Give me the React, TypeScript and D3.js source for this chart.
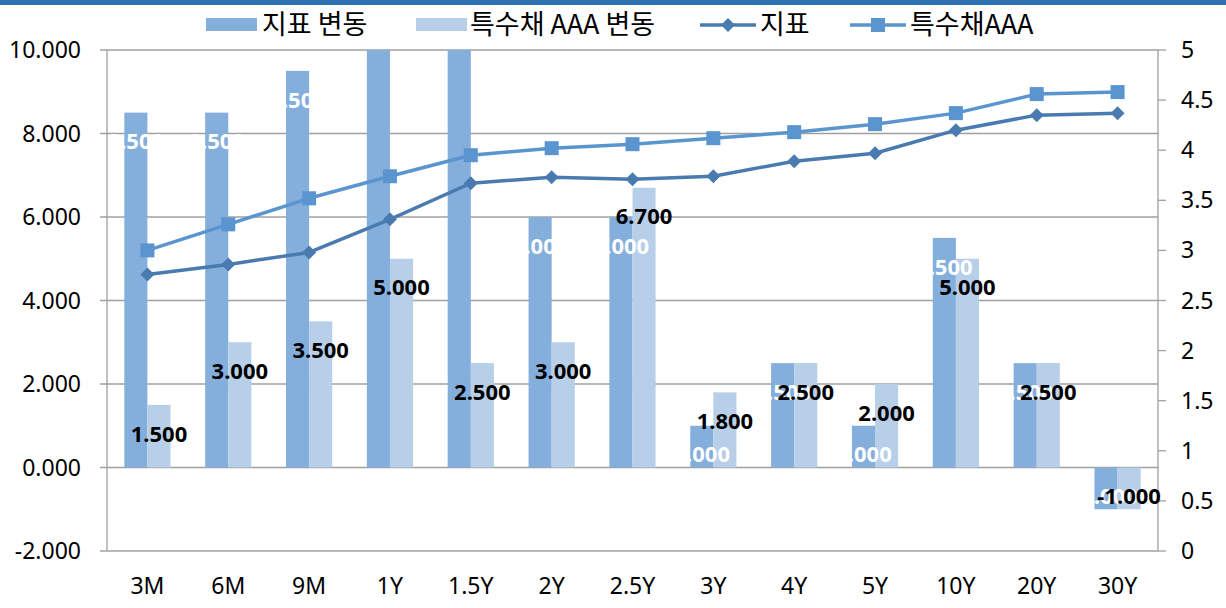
import React from "react";
import * as d3 from "d3";

const categories = ["3M", "6M", "9M", "1Y", "1.5Y", "2Y", "2.5Y", "3Y", "4Y", "5Y", "10Y", "20Y", "30Y"];
// bp change (left axis)
const jipyoChange = [8.5, 8.5, 9.5, 12, 11, 6, 6, 1, 2.5, 1, 5.5, 2.5, -1];
const aaaChange = [1.5, 3, 3.5, 5, 2.5, 3, 6.7, 1.8, 2.5, 2, 5, 2.5, -1];
// rate level (right axis)
const jipyoRate = [2.76, 2.86, 2.98, 3.31, 3.67, 3.73, 3.71, 3.74, 3.89, 3.97, 4.2, 4.35, 4.37];
const aaaRate = [3.0, 3.26, 3.52, 3.74, 3.95, 4.02, 4.06, 4.12, 4.18, 4.26, 4.37, 4.56, 4.58];
const leftTicks = [-2, 0, 2, 4, 6, 8, 10];
const rightTicks = [0, 0.5, 1, 1.5, 2, 2.5, 3, 3.5, 4, 4.5, 5];

const W = 1226;
const H = 608;
const margin = { top: 50, right: 68, bottom: 57, left: 107 };

const darkBar = "#84aedc";
const lightBar = "#b8cfe9";
const jipyoLine = "#4a7bb0";
const aaaLine = "#5b95cf";
const gridCol = "#a0a0a0";
const font = "'Noto Sans', 'Noto Sans CJK KR', sans-serif";
const krFont = "'Noto Sans CJK KR', 'Noto Sans', sans-serif";

const locale = d3.formatLocale({ decimal: ".", thousands: ",", grouping: [3], currency: ["", ""], minus: "-" });
const fmt = locale.format(".3f");

const App = () => {
  const x0 = margin.left;
  const x1 = W - margin.right;
  const yTop = margin.top;
  const yBot = H - margin.bottom;

  const x = d3.scaleBand().domain(categories).range([x0, x1]);
  const bw = x.bandwidth() / 3.5;
  const yL = d3.scaleLinear().domain([-2, 10]).range([yBot, yTop]);
  const yR = d3.scaleLinear().domain([0, 5]).range([yBot, yTop]);
  const cx = (i: number) => x(categories[i])! + x.bandwidth() / 2;

  const line = d3.line<number>().x((_, i) => cx(i)).y(d => yR(d));

  const labelY = (v: number) => (v >= 0 ? yL(v) + 29 : yL(v) - 13);

  const diamond = (px: number, py: number, r: number) =>
    `M${px},${py - r}L${px + r},${py}L${px},${py + r}L${px - r},${py}Z`;

  return (
    <svg width={W} height={H} style={{ position: "absolute", left: 0, top: 0, background: "#fff" }}>
      <defs>
        <clipPath id="plot">
          <rect x={x0} y={yTop} width={x1 - x0} height={yBot - yTop} />
        </clipPath>
      </defs>
      <rect x={0} y={0} width={W} height={5} fill="#2f71b3" />

      {/* gridlines + left axis */}
      {leftTicks.map(t => (
        <g key={t}>
          <line x1={x0 - 7} x2={x1} y1={yL(t)} y2={yL(t)} stroke={gridCol} strokeWidth={1.3} />
          <text x={x0 - 26} y={yL(t)} dy="0.35em" textAnchor="end" fontFamily={font} fontSize={23} fill="#000">
            {fmt(t)}
          </text>
        </g>
      ))}
      {rightTicks.map(t => (
        <g key={t}>
          <line x1={x1} x2={x1 + 8} y1={yR(t)} y2={yR(t)} stroke={gridCol} strokeWidth={1.3} />
          <text x={x1 + 23} y={yR(t)} dy="0.35em" textAnchor="start" fontFamily={font} fontSize={23} fill="#000">
            {t}
          </text>
        </g>
      ))}
      <line x1={x0} x2={x0} y1={yTop} y2={yBot} stroke={gridCol} strokeWidth={1.3} />
      <line x1={x1} x2={x1} y1={yTop} y2={yBot} stroke={gridCol} strokeWidth={1.3} />

      {/* bars */}
      <g clipPath="url(#plot)">
        {categories.map((c, i) => {
          const bx = x(c)! + bw * 0.75;
          const v1 = jipyoChange[i];
          const v2 = aaaChange[i];
          return (
            <g key={c}>
              <rect x={bx} y={Math.min(yL(v1), yL(0))} width={bw} height={Math.abs(yL(v1) - yL(0))} fill={darkBar} />
              <rect x={bx + bw} y={Math.min(yL(v2), yL(0))} width={bw} height={Math.abs(yL(v2) - yL(0))} fill={lightBar} />
            </g>
          );
        })}
      </g>

      {/* lines */}
      <path d={line(jipyoRate)!} fill="none" stroke={jipyoLine} strokeWidth={3.5} strokeLinejoin="round" />
      <path d={line(aaaRate)!} fill="none" stroke={aaaLine} strokeWidth={3.5} strokeLinejoin="round" />
      {jipyoRate.map((v, i) => (
        <path key={i} d={diamond(cx(i), yR(v), 7)} fill={jipyoLine} />
      ))}
      {aaaRate.map((v, i) => (
        <rect key={i} x={cx(i) - 7} y={yR(v) - 7} width={14} height={14} fill={aaaLine} />
      ))}

      {/* data labels */}
      <g clipPath="url(#plot)">
        {categories.map((c, i) => (
          <text key={c} x={x(c)! + bw * 1.25} y={labelY(jipyoChange[i])} dy="0.35em" textAnchor="middle"
            fontFamily={font} fontSize={22} fontWeight="bold" fill="#fff">
            {fmt(jipyoChange[i])}
          </text>
        ))}
      </g>
      {categories.map((c, i) => (
        <text key={c} x={x(c)! + bw * 2.25} y={labelY(aaaChange[i])} dy="0.35em" textAnchor="middle"
          fontFamily={font} fontSize={22} fontWeight="bold" fill="#000">
          {fmt(aaaChange[i])}
        </text>
      ))}

      {/* x labels */}
      {categories.map((c, i) => (
        <text key={c} x={cx(i)} y={yBot + 35} dy="0.35em" textAnchor="middle"
          fontFamily={font} fontSize={23} fill="#000">
          {c}
        </text>
      ))}

      {/* legend */}
      <g fontFamily={krFont} fontSize={27} fill="#000">
        <rect x={206} y={18} width={51} height={13} fill={darkBar} />
        <text x={262} y={25} dy="0.35em">지표 변동</text>
        <rect x={416} y={18} width={51} height={13} fill={lightBar} />
        <text x={470} y={25} dy="0.35em">특수채 AAA 변동</text>
        <line x1={700} x2={756} y1={25} y2={25} stroke={jipyoLine} strokeWidth={3.5} />
        <path d={diamond(728, 25, 7)} fill={jipyoLine} />
        <text x={760} y={25} dy="0.35em">지표</text>
        <line x1={850} x2={906} y1={25} y2={25} stroke={aaaLine} strokeWidth={3.5} />
        <rect x={871} y={18} width={14} height={14} fill={aaaLine} />
        <text x={910} y={25} dy="0.35em">특수채AAA</text>
      </g>
    </svg>
  );
};

export default App;
